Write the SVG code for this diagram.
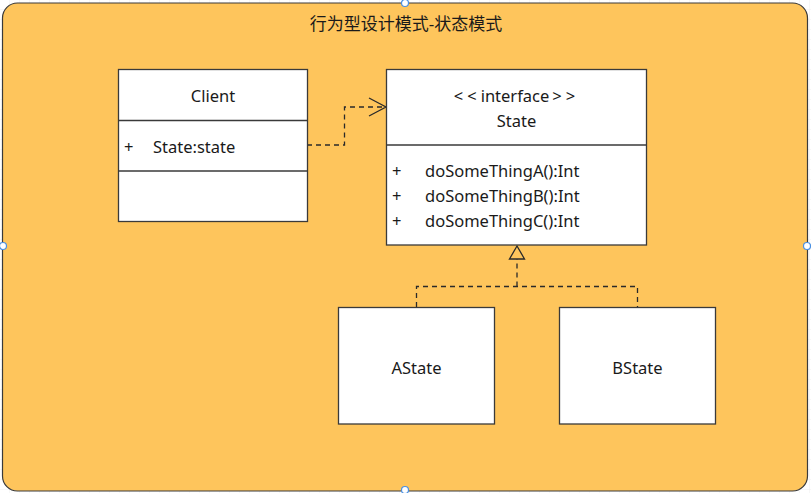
<svg xmlns="http://www.w3.org/2000/svg" width="811" height="493" viewBox="0 0 811 493">
<style>
.box{fill:#ffffff;stroke:#3a3a3a;stroke-width:1.3}
.div{stroke:#3a3a3a;stroke-width:1.3}
.t{font-family:"Noto Sans","Noto Sans CJK SC",sans-serif;font-size:16.5px;fill:#1a1a1a}
.title{font-size:17px}
.c{text-anchor:middle}
.dash{fill:none;stroke:#2a2a2a;stroke-width:1.3;stroke-dasharray:5,4}
.handle{fill:#ffffff;stroke:#4a90e2;stroke-width:1.2}
</style>
<defs>
<pattern id="grid" width="10" height="10" patternUnits="userSpaceOnUse">
<path d="M10 0V10M0 10H10" fill="none" stroke="#efefef" stroke-width="1"/>
</pattern>
</defs>
<rect x="0" y="0" width="811" height="493" fill="#ffffff"/>
<rect x="0" y="0" width="811" height="493" fill="url(#grid)"/>
<g id="container">
<rect x="2.5" y="3" width="805" height="488" rx="15" ry="15" fill="#fec55c" stroke="#3a3a3a" stroke-width="1.2"/>
<text class="t title c" x="406" y="30">行为型设计模式-状态模式</text>
</g>
<g id="connectors">
<polyline class="dash" points="307,145 344.5,145 344.5,107 385,107"/>
<polyline points="369,98 386,107 369,116" fill="none" stroke="#2a2a2a" stroke-width="1.3"/>
<polyline class="dash" points="416.5,307 416.5,286.5 637.5,286.5 637.5,307"/>
<line class="dash" x1="517" y1="286.5" x2="517" y2="259"/>
<polygon points="517,246 509.5,259 524.5,259" fill="#fec55c" stroke="#2a2a2a" stroke-width="1.3"/>
</g>
<g id="client">
<rect class="box" x="118.5" y="69.5" width="189" height="152"/>
<line class="div" x1="118.5" y1="120.5" x2="307.5" y2="120.5"/>
<line class="div" x1="118.5" y1="171" x2="307.5" y2="171"/>
<text class="t c" x="213" y="102">Client</text>
<text class="t" x="124" y="153">+</text>
<text class="t" x="153" y="153">State:state</text>
</g>
<g id="state">
<rect class="box" x="386.5" y="69.5" width="260" height="175.5"/>
<line class="div" x1="386.5" y1="145" x2="646.5" y2="145"/>
<text class="t c" x="516.5" y="102"><tspan letter-spacing="4">&lt;&lt;</tspan>interface<tspan dx="3" letter-spacing="4">&gt;&gt;</tspan></text>
<text class="t c" x="516.5" y="127">State</text>
<text class="t" x="392" y="177">+</text>
<text class="t" x="425" y="177">doSomeThingA():Int</text>
<text class="t" x="392" y="202">+</text>
<text class="t" x="425" y="202">doSomeThingB():Int</text>
<text class="t" x="392" y="227">+</text>
<text class="t" x="425" y="227">doSomeThingC():Int</text>
</g>
<g id="astate">
<rect class="box" x="338.5" y="307.5" width="156" height="116.5"/>
<text class="t c" x="416.5" y="374">AState</text>
</g>
<g id="bstate">
<rect class="box" x="559.5" y="307.5" width="156" height="116.5"/>
<text class="t c" x="637.5" y="374">BState</text>
</g>
<g id="handles">
<circle class="handle" cx="405" cy="3" r="3.5"/>
<circle class="handle" cx="3" cy="246" r="3.5"/>
<circle class="handle" cx="807" cy="246" r="3.5"/>
<circle class="handle" cx="405" cy="490" r="3.5"/>
</g>
</svg>
